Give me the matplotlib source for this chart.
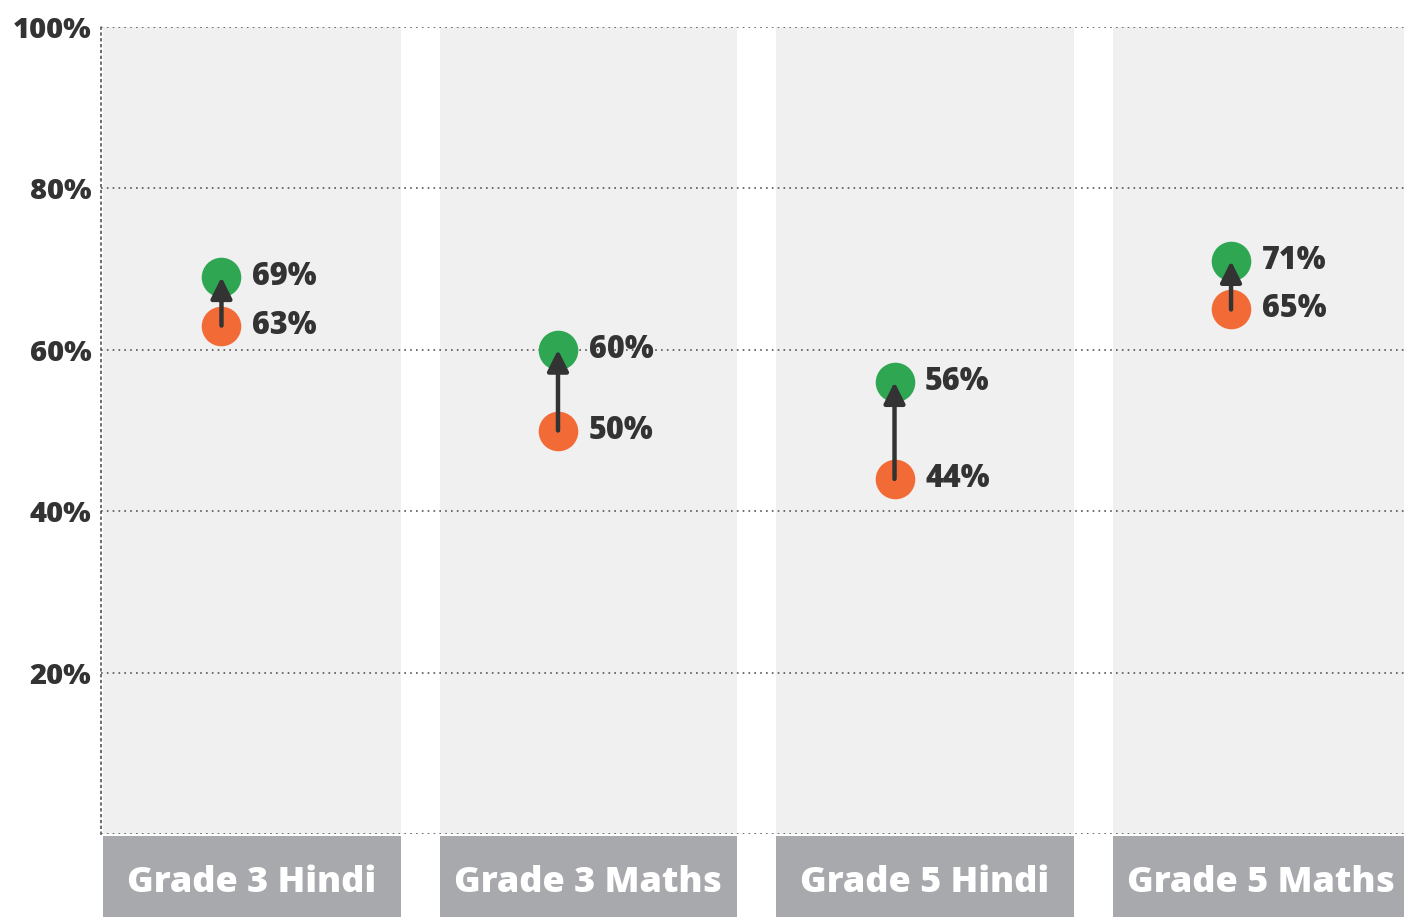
import matplotlib
matplotlib.use('Agg')
import matplotlib.pyplot as plt
from matplotlib.patches import Rectangle
import matplotlib.transforms as mtransforms

categories = ['Grade 3 Hindi', 'Grade 3 Maths', 'Grade 5 Hindi', 'Grade 5 Maths']
before = [63, 50, 44, 65]
after = [69, 60, 56, 71]
yticks = [20, 40, 60, 80, 100]

plt.rcParams['font.family'] = ['Open Sans', 'DejaVu Sans']

green = '#2fa652'
orange = '#f26b36'
dark = '#333333'
panel_grey = '#f0f0f0'
box_grey = '#a8a9ad'

fig = plt.figure(figsize=(14.04, 9.17), dpi=100)
ax = fig.add_axes([101 / 1404, 83 / 917, 1303 / 1404, 807 / 917])

half = 0.442
shift = -0.09

for i, cat in enumerate(categories):
    ax.axvspan(i - half, i + half, color=panel_grey, zorder=0, lw=0)
    # grey label box under each panel
    trans = mtransforms.blended_transform_factory(ax.transData, ax.transAxes)
    ax.add_patch(Rectangle((i - half, -0.103), 2 * half, 0.1005, transform=trans,
                           color=box_grey, clip_on=False, lw=0))
    ax.text(i, -0.061, cat, transform=trans, ha='center', va='center',
            color='white', fontsize=26, fontweight='heavy')

    x = i + shift
    ax.plot(x, before[i], 'o', color=orange, ms=28.5, mec='none', zorder=4)
    ax.plot(x, after[i], 'o', color=green, ms=28.5, mec='none', zorder=4)
    ax.annotate('', xy=(x, after[i]), xytext=(x, before[i]),
                arrowprops=dict(arrowstyle='-|>', color=dark, lw=3.2,
                                mutation_scale=32, shrinkA=0, shrinkB=0),
                zorder=5)
    ax.annotate(f'{before[i]}%', xy=(x, before[i]), xytext=(22, 0),
                textcoords='offset points', va='center', ha='left',
                fontsize=22, fontweight='heavy', color=dark, zorder=6)
    ax.annotate(f'{after[i]}%', xy=(x, after[i]), xytext=(22, 0),
                textcoords='offset points', va='center', ha='left',
                fontsize=22, fontweight='heavy', color=dark, zorder=6)

for y in [0] + yticks:
    ax.axhline(y, color='#555555', lw=1.2, ls=(0, (1, 2.5)), zorder=2)

ax.set_xlim(-0.448, 3.424)
ax.set_ylim(0, 100)
ax.set_yticks(yticks)
ax.set_yticklabels([f'{t}%' for t in yticks], fontsize=21, fontweight='heavy', color=dark)
ax.tick_params(axis='y', length=0, pad=7)
ax.set_xticks([])

for s in ['top', 'right', 'bottom']:
    ax.spines[s].set_visible(False)
ax.spines['left'].set_linestyle((0, (1, 2.5)))
ax.spines['left'].set_color('#555555')
ax.spines['left'].set_linewidth(1.2)

fig.savefig('out.png', dpi=100)
